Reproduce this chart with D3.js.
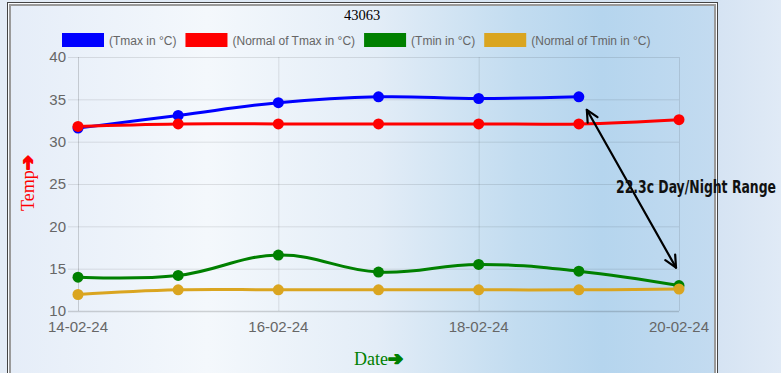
<!DOCTYPE html>
<html>
<head>
<meta charset="utf-8">
<script src="https://cdn.jsdelivr.net/npm/d3@7"></script>
<style>
  html, body { margin: 0; padding: 0; background: #dae7f4; }
  svg { display: block; }
</style>
</head>
<body>
<svg id="chart"></svg>
<script>
const W = 781, H = 373;

const dates = ["14-02-24", "15-02-24", "16-02-24", "17-02-24", "18-02-24", "19-02-24", "20-02-24"];
const tickDates = ["14-02-24", "16-02-24", "18-02-24", "20-02-24"];
const yTicks = [10, 15, 20, 25, 30, 35, 40];

const tmax = [31.6, 33.1, 34.6, 35.3, 35.1, 35.3, null];
const normalTmax = [31.8, 32.1, 32.1, 32.1, 32.1, 32.1, 32.6];
const tmin = [14.0, 14.2, 16.6, 14.6, 15.5, 14.7, 13.0];
const normalTmin = [11.95, 12.5, 12.5, 12.5, 12.5, 12.5, 12.6];

const seriesNames = ["(Tmax in °C)", "(Normal of Tmax in °C)", "(Tmin in °C)", "(Normal of Tmin in °C)"];
const seriesColors = ["#0000ff", "#ff0000", "#008000", "#daa520"];
const series = [tmax, normalTmax, tmin, normalTmin];

const title = "43063";
const rangeLabel = "22.3c Day/Night Range";

const margin = { top: 57, right: 102, bottom: 62, left: 78 };
const width = W - margin.left - margin.right;
const height = H - margin.top - margin.bottom;

const svg = d3.select("#chart")
  .attr("width", W)
  .attr("height", H);

const defs = svg.append("defs");

// background gradient inside the frame
const bg = defs.append("linearGradient")
  .attr("id", "bg")
  .attr("x1", "0").attr("x2", "1").attr("y1", "0").attr("y2", "0");
[["0%", "#e5edf8"], ["28%", "#f4f8fc"], ["52%", "#e3edf7"], ["72%", "#c2dcf0"], ["84%", "#b5d5ee"], ["100%", "#c3dbf0"]]
  .forEach(s => bg.append("stop").attr("offset", s[0]).attr("stop-color", s[1]));

const outer = defs.append("linearGradient")
  .attr("id", "outer")
  .attr("x1", "0").attr("x2", "1").attr("y1", "0").attr("y2", "0");
[["0%", "#e4ecf6"], ["90%", "#d3e2f2"], ["100%", "#e0eaf6"]]
  .forEach(s => outer.append("stop").attr("offset", s[0]).attr("stop-color", s[1]));

svg.append("rect")
  .attr("width", W).attr("height", H)
  .attr("fill", "url(#outer)");

// frame
svg.append("rect")
  .attr("x", 7.5).attr("y", 2.5)
  .attr("width", 710).attr("height", H)
  .attr("fill", "#fafcfe")
  .attr("stroke", "#444").attr("stroke-width", 1);

svg.append("rect")
  .attr("x", 10).attr("y", 5)
  .attr("width", 705).attr("height", H)
  .attr("fill", "url(#bg)")
  .attr("stroke", "#9a9a9a").attr("stroke-width", 2);

const x = d3.scalePoint()
  .domain(dates)
  .range([0, width]);

const y = d3.scaleLinear()
  .domain([10, 40])
  .range([height, 0]);

const g = svg.append("g")
  .attr("transform", `translate(${margin.left},${margin.top})`);

// grid
g.selectAll(".hgrid")
  .data(yTicks)
  .enter()
  .append("line")
  .attr("x1", -10)
  .attr("x2", width)
  .attr("y1", d => y(d) + 0.5)
  .attr("y2", d => y(d) + 0.5)
  .attr("stroke", d => d === 10 ? "rgba(0,0,0,0.16)" : "rgba(0,0,0,0.1)")
  .attr("stroke-width", d => d === 10 ? 1.5 : 1);

g.selectAll(".vgrid")
  .data(tickDates)
  .enter()
  .append("line")
  .attr("x1", d => x(d) + 0.5)
  .attr("x2", d => x(d) + 0.5)
  .attr("y1", 0)
  .attr("y2", height)
  .attr("stroke", d => d === dates[0] ? "rgba(0,0,0,0.16)" : "rgba(0,0,0,0.1)");

// y tick labels
g.selectAll(".ylab")
  .data(yTicks)
  .enter()
  .append("text")
  .attr("x", -12)
  .attr("y", d => y(d))
  .attr("dy", "0.36em")
  .attr("text-anchor", "end")
  .style("font", "15px 'Liberation Sans', Arial, sans-serif")
  .style("fill", "#666")
  .text(d => d);

// x tick labels
g.selectAll(".xlab")
  .data(tickDates)
  .enter()
  .append("text")
  .attr("x", d => x(d))
  .attr("y", height + 21)
  .attr("text-anchor", "middle")
  .style("font", "15px 'Liberation Sans', Arial, sans-serif")
  .style("fill", "#666")
  .text(d => d);

// lines and points
const line = d3.line()
  .defined(d => d.v != null)
  .x(d => x(d.date))
  .y(d => y(d.v))
  .curve(d3.curveCardinal.tension(-0.2));

series.forEach((vals, i) => {
  const pts = vals.map((v, j) => ({ date: dates[j], v }));
  g.append("path")
    .datum(pts)
    .attr("d", line)
    .attr("fill", "none")
    .attr("stroke", seriesColors[i])
    .attr("stroke-width", 3);
});

series.forEach((vals, i) => {
  const pts = vals.map((v, j) => ({ date: dates[j], v })).filter(d => d.v != null);
  g.selectAll(".pt" + i)
    .data(pts)
    .enter()
    .append("circle")
    .attr("cx", d => x(d.date))
    .attr("cy", d => y(d.v))
    .attr("r", 5.5)
    .attr("fill", seriesColors[i]);
});

// title
svg.append("text")
  .attr("x", 362)
  .attr("y", 20)
  .attr("text-anchor", "middle")
  .style("font", "14.5px 'Liberation Serif', 'Times New Roman', serif")
  .style("fill", "#000")
  .text(title);

// legend
const legend = svg.append("g").attr("transform", "translate(62,33)");
let lx = 0;
seriesNames.forEach((name, i) => {
  legend.append("rect")
    .attr("x", lx)
    .attr("y", 0)
    .attr("width", 42)
    .attr("height", 14)
    .attr("fill", seriesColors[i]);
  const t = legend.append("text")
    .attr("x", lx + 47)
    .attr("y", 11.5)
    .style("font", "12px 'Liberation Sans', Arial, sans-serif")
    .style("fill", "#666")
    .text(name);
  lx += 47 + t.node().getComputedTextLength() + 9;
});

// axis titles
const yTitle = svg.append("text")
  .attr("transform", "translate(34,183) rotate(-90)")
  .attr("text-anchor", "middle")
  .style("font", "18px 'Liberation Serif', 'Times New Roman', serif")
  .style("fill", "#ff0000");
yTitle.append("tspan").text("Temp");
yTitle.append("tspan")
  .style("font", "bold 18px 'DejaVu Sans', sans-serif")
  .attr("stroke", "#ff0000")
  .attr("stroke-width", 1.6)
  .attr("stroke-linejoin", "round")
  .text("\u2794");

const xTitle = svg.append("text")
  .attr("x", margin.left + width / 2)
  .attr("y", 365)
  .attr("text-anchor", "middle")
  .style("font", "18px 'Liberation Serif', 'Times New Roman', serif")
  .style("fill", "#008000");
xTitle.append("tspan").text("Date");
xTitle.append("tspan")
  .style("font", "bold 18px 'DejaVu Sans', sans-serif")
  .attr("stroke", "#008000")
  .attr("stroke-width", 1.6)
  .attr("stroke-linejoin", "round")
  .text("\u2794");

// day/night range annotation
const ax1 = margin.left + x(dates[5]) + 8;
const ay1 = margin.top + y(tmax[5]) + 13;
const ax2 = margin.left + x(dates[6]) - 3;
const ay2 = margin.top + y(tmin[6]) - 18;

const ang = Math.atan2(ay2 - ay1, ax2 - ax1);
const headLen = 13, headAng = 0.45;

function head(px, py, dir) {
  return [
    [px + headLen * Math.cos(dir - headAng), py + headLen * Math.sin(dir - headAng)],
    [px, py],
    [px + headLen * Math.cos(dir + headAng), py + headLen * Math.sin(dir + headAng)]
  ];
}

const arrow = svg.append("g")
  .attr("fill", "none")
  .attr("stroke", "#000")
  .attr("stroke-width", 2.2)
  .attr("stroke-linecap", "round")
  .attr("stroke-linejoin", "round");

arrow.append("line")
  .attr("x1", ax1).attr("y1", ay1)
  .attr("x2", ax2).attr("y2", ay2);

arrow.append("path").attr("d", d3.line()(head(ax1, ay1, ang)));
arrow.append("path").attr("d", d3.line()(head(ax2, ay2, ang + Math.PI)));

svg.append("text")
  .attr("x", 616)
  .attr("y", 193)
  .attr("textLength", 160)
  .attr("lengthAdjust", "spacingAndGlyphs")
  .style("font", "bold 17px 'Liberation Sans Narrow', 'DejaVu Sans Condensed', sans-serif")
  .style("fill", "#111")
  .text(rangeLabel);
</script>
</body>
</html>
